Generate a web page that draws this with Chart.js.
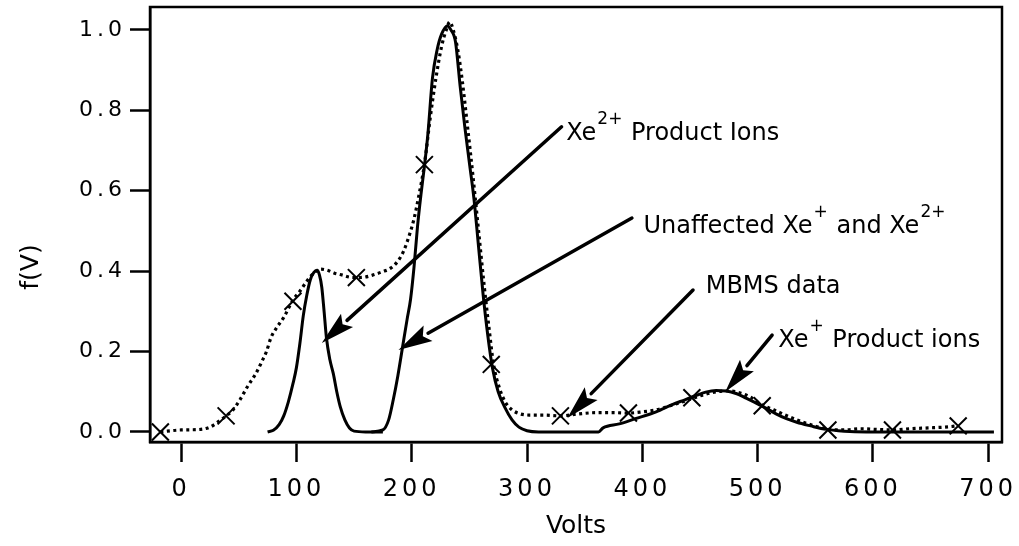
<!DOCTYPE html>
<html>
<head>
<meta charset="utf-8">
<script src="https://cdn.jsdelivr.net/npm/chart.js@4"></script>
<style>
  body { margin: 0; background: #fff; }
  canvas { display: block; }
</style>
</head>
<body>
<canvas id="chart-line" width="1019" height="546"></canvas>
<script>
// total signal (dotted trace)
var totalV = [-18, 0, 15, 25, 32, 39, 45, 51, 58, 65, 70, 74, 78, 83, 89, 97, 103, 109, 115, 121,
              127, 133, 140, 146, 152, 159, 166, 174, 182, 188, 193, 198, 202, 206, 211, 216, 221, 226, 230, 233,
              236, 240, 244, 248, 253, 258, 263, 267, 271, 276, 281, 287, 294, 302, 315, 329, 345, 360, 375, 388,
              400, 412, 424, 435, 445, 455, 465, 475, 485, 495, 504, 514, 524, 534, 544, 553, 562, 575, 590, 605,
              618, 632, 648, 662, 673];
var totalF = [0.0, 0.005, 0.006, 0.012, 0.025, 0.04, 0.055, 0.08, 0.115, 0.146, 0.175, 0.2, 0.235, 0.26, 0.285, 0.328, 0.35, 0.375, 0.395, 0.405,
              0.402, 0.395, 0.39, 0.385, 0.384, 0.385, 0.39, 0.398, 0.408, 0.425, 0.45, 0.49, 0.53, 0.585, 0.665, 0.78, 0.88, 0.96, 1.0, 1.02,
              1.0, 0.95, 0.87, 0.77, 0.64, 0.5, 0.36, 0.26, 0.168, 0.11, 0.075, 0.055, 0.045, 0.042, 0.042, 0.04, 0.045, 0.048, 0.048, 0.047,
              0.05, 0.055, 0.065, 0.075, 0.085, 0.094, 0.1, 0.102, 0.097, 0.085, 0.067, 0.055, 0.042, 0.03, 0.02, 0.012, 0.006, 0.005, 0.008, 0.006,
              0.005, 0.008, 0.01, 0.012, 0.015];

// Xe2+ product ion peak
var xe2V = [75, 80, 85, 89, 93, 97, 100, 103, 106, 109, 112, 115, 118, 120, 122, 124, 126, 129, 132, 135,
            138, 142, 146, 150, 160, 175];
var xe2F = [0, 0.004, 0.018, 0.04, 0.075, 0.12, 0.16, 0.22, 0.29, 0.34, 0.378, 0.396, 0.402, 0.39, 0.36, 0.3, 0.235, 0.18, 0.145, 0.1,
            0.063, 0.03, 0.01, 0.002, 0, 0];

// unaffected Xe+/Xe2+ peak and Xe+ product ions
var mainV = [165, 175, 180, 184, 188, 192, 196, 199, 202, 205, 208, 211, 214, 218, 222, 226, 231, 234, 238, 242,
             246, 250, 254, 258, 262, 266, 270, 275, 281, 287, 293, 300, 310, 362, 366, 380, 394, 412, 426, 437,
             446, 455, 464, 473, 482, 490, 500, 508, 516, 525, 534, 546, 558, 570, 580, 600, 705];
var mainF = [0, 0.005, 0.03, 0.08, 0.14, 0.21, 0.28, 0.33, 0.41, 0.51, 0.59, 0.66, 0.74, 0.88, 0.95, 0.99, 1.01, 1.0, 0.97, 0.86,
             0.76, 0.67, 0.58, 0.46, 0.34, 0.24, 0.16, 0.1, 0.06, 0.03, 0.012, 0.003, 0, 0, 0.01, 0.02, 0.033, 0.05, 0.068, 0.08,
             0.09, 0.099, 0.103, 0.102, 0.095, 0.084, 0.07, 0.058, 0.045, 0.033, 0.024, 0.015, 0.007, 0.003, 0.001, 0, 0];

// MBMS data points
var mbmsV = [-18, 39, 97, 152, 211, 269, 329, 388, 443, 504, 561, 617, 674];
var mbmsF = [0.0, 0.04, 0.325, 0.384, 0.665, 0.168, 0.04, 0.047, 0.085, 0.065, 0.005, 0.005, 0.015];

var xTicks = [0, 100, 200, 300, 400, 500, 600, 700];
var yTicks = [0.0, 0.2, 0.4, 0.6, 0.8, 1.0];

// arrows: label start, arrow tail, arrow tip (in Volts / f(V))
var callouts = [
    { parts: [['Xe'], ['2+', true], [' Product Ions']], at: [334, 0.726], from: [330, 0.759], to: [122, 0.221] },
    { parts: [['Unaffected Xe'], ['+', true], [' and Xe'], ['2+', true]], at: [401, 0.495], from: [391, 0.532], to: [188.5, 0.204] },
    { parts: [['MBMS data']], at: [455, 0.346], from: [444, 0.353], to: [335, 0.035] },
    { parts: [['Xe'], ['+', true], [' Product ions']], at: [518, 0.211], from: [512.6, 0.241], to: [472, 0.1] }
];

function pts(xs, ys) {
    return xs.map(function (v, i) { return { x: v, y: ys[i] }; });
}

var FONT = "'DejaVu Sans', 'Liberation Sans', sans-serif";

function arrow(ctx, x0, y0, x1, y1) {
    var ang = Math.atan2(y1 - y0, x1 - x0);
    var len = 34, half = 9;
    var bx = x1 - len * Math.cos(ang), by = y1 - len * Math.sin(ang);
    ctx.beginPath();
    ctx.moveTo(x0, y0);
    ctx.lineTo(bx, by);
    ctx.stroke();
    ctx.beginPath();
    ctx.moveTo(x1, y1);
    ctx.lineTo(bx + half * Math.sin(ang), by - half * Math.cos(ang));
    ctx.lineTo(bx + 6 * Math.cos(ang), by + 6 * Math.sin(ang));
    ctx.lineTo(bx - half * Math.sin(ang), by + half * Math.cos(ang));
    ctx.closePath();
    ctx.fill();
}

var framePlugin = {
    id: 'frame',
    afterDatasetsDraw: function (chart) {
        // tick labels are drawn after this, spaced out
        chart.ctx.letterSpacing = '4px';
    },
    afterDraw: function (chart) {
        var ctx = chart.ctx, a = chart.chartArea;
        var xs = chart.scales.x, ys = chart.scales.y;
        ctx.letterSpacing = '0px';
        ctx.save();
        ctx.strokeStyle = '#000';
        ctx.fillStyle = '#000';
        ctx.lineWidth = 2.5;
        ctx.strokeRect(a.left, a.top, a.right - a.left, a.bottom - a.top);

        // y axis title, sits a little below the middle
        ctx.save();
        ctx.translate(31, 267);
        ctx.rotate(-Math.PI / 2);
        ctx.textAlign = 'center';
        ctx.textBaseline = 'middle';
        ctx.font = '25px ' + FONT;
        ctx.fillText('f(V)', 0, 0);
        ctx.restore();

        ctx.lineWidth = 3.5;
        ctx.lineCap = 'round';
        ctx.textBaseline = 'alphabetic';
        callouts.forEach(function (c) {
            arrow(ctx, xs.getPixelForValue(c.from[0]), ys.getPixelForValue(c.from[1]),
                       xs.getPixelForValue(c.to[0]), ys.getPixelForValue(c.to[1]));
            var x = xs.getPixelForValue(c.at[0]), y = ys.getPixelForValue(c.at[1]);
            c.parts.forEach(function (p) {
                if (p[1]) {
                    ctx.font = '17px ' + FONT;
                    ctx.fillText(p[0], x + 1, y - 16);
                    x += ctx.measureText(p[0]).width + 2;
                } else {
                    ctx.font = '24px ' + FONT;
                    ctx.fillText(p[0], x, y);
                    x += ctx.measureText(p[0]).width;
                }
            });
        });
        ctx.restore();
    }
};

var lineStyle = {
    showLine: true,
    pointRadius: 0,
    borderColor: '#000',
    borderWidth: 3,
    cubicInterpolationMode: 'monotone',
    fill: false
};

var ctx = document.getElementById('chart-line');
var myChart = new Chart(ctx, {
    type: 'scatter',
    data: {
        datasets: [
            Object.assign({ data: pts(totalV, totalF) }, lineStyle, { borderDash: [3, 3.5], borderWidth: 3.2 }),
            Object.assign({ data: pts(xe2V, xe2F) }, lineStyle),
            Object.assign({ data: pts(mainV, mainF) }, lineStyle),
            {
                data: pts(mbmsV, mbmsF),
                showLine: false,
                pointStyle: 'crossRot',
                pointRadius: 12,
                borderColor: '#000',
                borderWidth: 2
            }
        ]
    },
    options: {
        responsive: false,
        animation: false,
        events: [],
        layout: { autoPadding: false, padding: { top: 7, right: 17, left: 0, bottom: 0 } },
        plugins: {
            legend: { display: false },
            tooltip: { enabled: false }
        },
        scales: {
            x: {
                type: 'linear',
                min: -27,
                max: 712,
                afterFit: function (s) { s.height = 104; s.paddingLeft = 0; s.paddingRight = 0; },
                afterBuildTicks: function (s) { s.ticks = xTicks.map(function (v) { return { value: v }; }); },
                grid: { drawOnChartArea: false, drawTicks: true, tickLength: 20, tickWidth: 2.5, tickColor: '#000' },
                border: { display: true, color: '#000', width: 2.5 },
                ticks: {
                    z: 1,
                    color: '#000',
                    padding: 13,
                    maxRotation: 0,
                    autoSkip: false,
                    font: { family: FONT, size: 24 },
                    callback: function (v) { return String(v); }
                },
                title: {
                    display: true,
                    text: 'Volts',
                    color: '#000',
                    font: { family: FONT, size: 25 },
                    padding: { top: 0, bottom: 5 }
                }
            },
            y: {
                min: -0.025,
                max: 1.057,
                afterFit: function (s) { s.width = 150; s.paddingTop = 0; s.paddingBottom = 0; },
                afterBuildTicks: function (s) { s.ticks = yTicks.map(function (v) { return { value: v }; }); },
                grid: { drawOnChartArea: false, drawTicks: true, tickLength: 20, tickWidth: 2.5, tickColor: '#000' },
                border: { display: true, color: '#000', width: 2.5 },
                ticks: {
                    z: 1,
                    color: '#000',
                    padding: 4,
                    autoSkip: false,
                    font: { family: FONT, size: 22 },
                    callback: function (v) { return v.toFixed(1); }
                }
            }
        }
    },
    plugins: [framePlugin]
});
</script>
</body>
</html>
